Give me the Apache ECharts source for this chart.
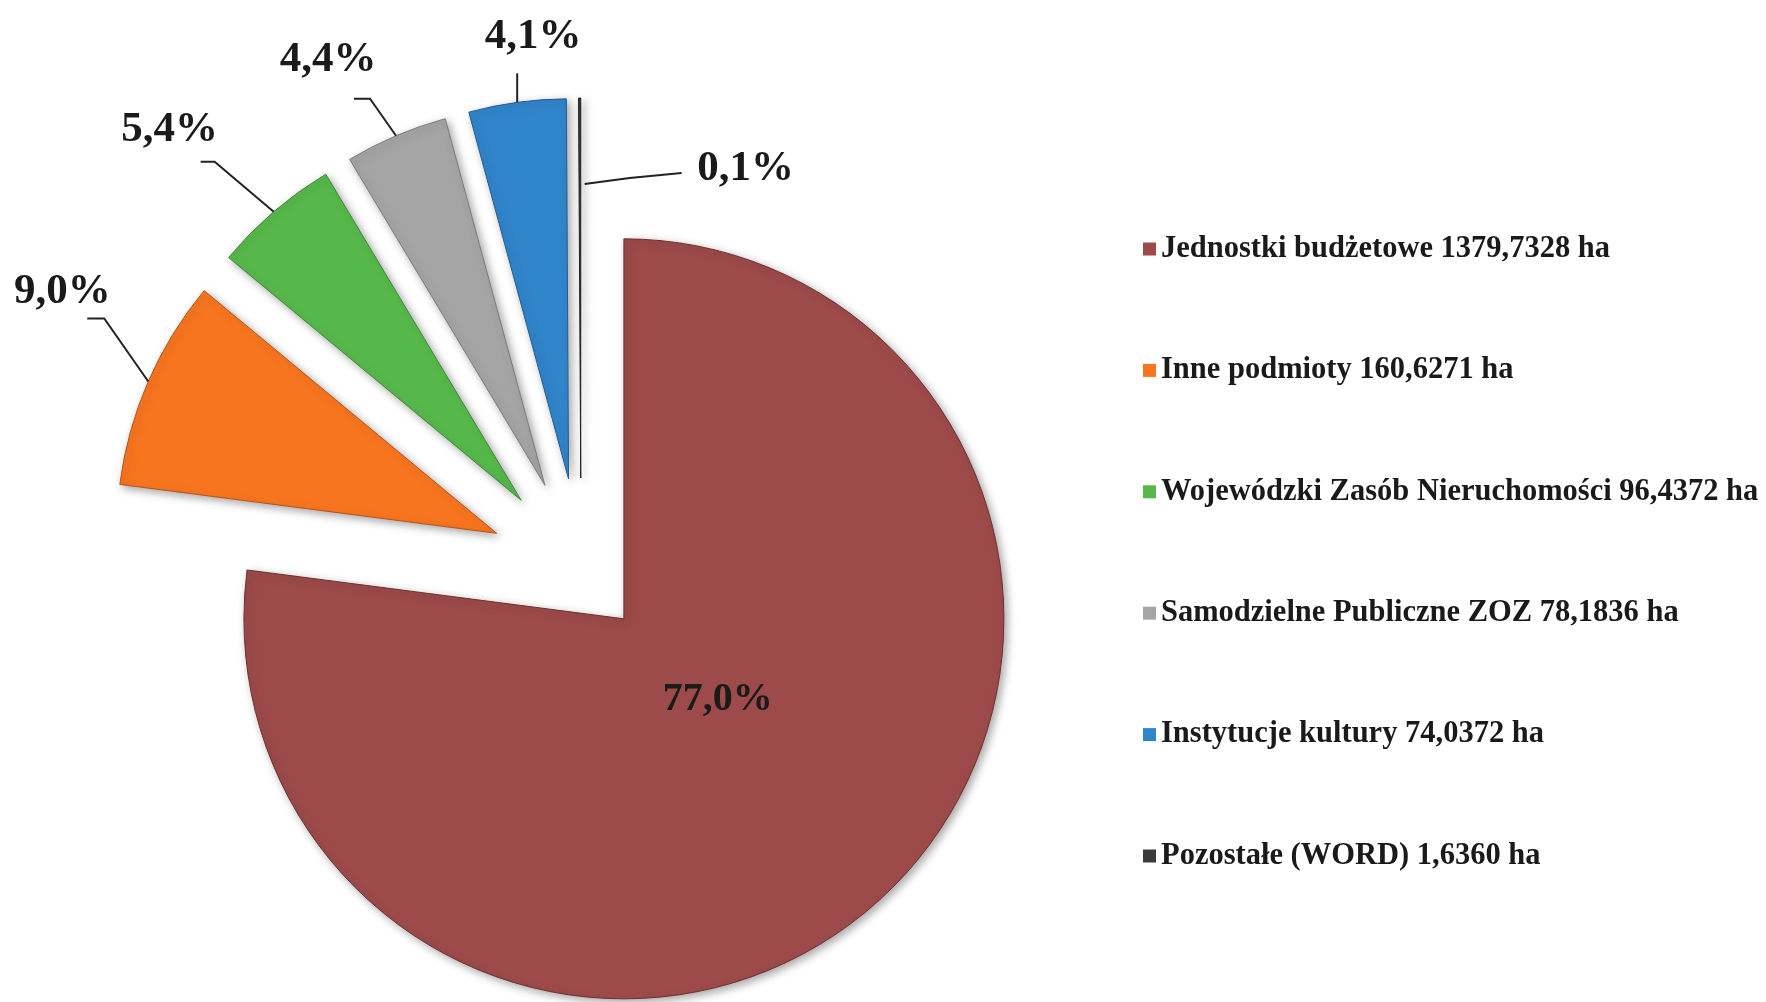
<!DOCTYPE html>
<html>
<head>
<meta charset="utf-8">
<script src="https://cdn.jsdelivr.net/npm/echarts@6/dist/echarts.min.js"></script>
<style>
html, body { margin: 0; padding: 0; background: #fff; }
#chart { width: 1766px; height: 1002px; }
</style>
</head>
<body>
<div id="chart"></div>
<script>
// powierzchnia gruntów wg władającego (ha)
var names = ['Jednostki budżetowe', 'Inne podmioty', 'Wojewódzki Zasób Nieruchomości',
  'Samodzielne Publiczne ZOZ', 'Instytucje kultury', 'Pozostałe (WORD)'];
var areas = [1379.7328, 160.6271, 96.4372, 78.1836, 74.0372, 1.6360];
var pctLabels = ['77,0%', '9,0%', '5,4%', '4,4%', '4,1%', '0,1%'];
var colors = ['#9d4a4a', '#f7751f', '#56b84b', '#a5a5a5', '#3185cb', '#3a3a3a'];
var edges = ['#6f2f2f', '#b9531a', '#3f8a33', '#7c7c7c', '#225c94', '#222222'];

var center = [581, 570];
var R = 380;
var offMain = 65;   // wysunięcie dużego wycinka
var offRest = 92;   // wysunięcie pozostałych

// przesunięcia etykiet względem początku linii odniesienia (na łuku wysuniętego wycinka)
var leader = {
  1: { start: [0, 0], bend: [-44, -63], end: [-61, -63], label: [-86, -90] },
  2: { start: [0, 0], bend: [-59, -50], end: [-73, -50], label: [-104, -82] },
  3: { start: [0, 0], bend: [-26, -37], end: [-42, -37], label: [-68, -76] },
  4: { start: [0, 0], bend: [0, -15], end: [0, -29], label: [16, -65] },
  5: { start: [5, 86], bend: [50, 80], end: [102, 75], label: [166, 71] }
};

var font = 'Liberation Serif, Times New Roman, serif';

function item(i, visible) {
  var st = {
    color: colors[i],
    borderColor: edges[i],
    borderWidth: 1,
    shadowBlur: 8,
    shadowColor: 'rgba(0,0,0,0.35)',
    shadowOffsetX: 3,
    shadowOffsetY: 3
  };
  if (!visible) {
    st = { opacity: 0 };
  }
  return {
    name: names[i],
    value: areas[i],
    selected: true,
    itemStyle: st,
    select: { itemStyle: st }
  };
}

function sliceSeries(offset, test) {
  return {
    type: 'pie',
    center: center,
    radius: R,
    startAngle: 90,
    selectedMode: 'multiple',
    selectedOffset: offset,
    silent: true,
    label: { show: false },
    labelLine: { show: false },
    data: names.map(function (n, i) { return item(i, test(i)); })
  };
}

var chart = echarts.init(document.getElementById('chart'));
chart.setOption({
  animation: false,
  backgroundColor: '#fff',
  legend: {
    orient: 'vertical',
    left: 1138,
    top: 226,
    itemGap: 85.4,
    itemWidth: 13,
    itemHeight: 13,
    icon: 'rect',
    selectedMode: false,
    data: names.map(function (n, i) {
      return { name: n, itemStyle: { color: colors[i], borderWidth: 0, shadowBlur: 0, opacity: 1 } };
    }),
    formatter: function (n) {
      var i = names.indexOf(n);
      return n + ' ' + areas[i].toFixed(4).replace('.', ',') + ' ha';
    },
    textStyle: { fontFamily: font, fontWeight: 'bold', fontSize: 30.5, color: '#1a1a1a', lineHeight: 36 }
  },
  series: [
    sliceSeries(offMain, function (i) { return i === 0; }),
    sliceSeries(offRest, function (i) { return i !== 0; }),
    {
      // tylko etykiety
      type: 'pie',
      center: center,
      radius: R,
      startAngle: 90,
      silent: true,
      z: 5,
      itemStyle: { color: 'rgba(0,0,0,0)' },
      data: names.map(function (n, i) { return { name: n, value: areas[i] }; }),
      label: {
        position: 'outside',
        opacity: 1,
        formatter: function (p) { return pctLabels[p.dataIndex]; },
        fontFamily: font, fontWeight: 'bold', fontSize: 43, color: '#1a1a1a'
      },
      labelLine: {
        length: 20,
        length2: 15,
        lineStyle: { color: '#222', width: 2, opacity: 1 }
      },
      labelLayout: function (p) {
        var pts = p.labelLinePoints;
        if (!pts) return {};
        var vx = pts[0][0] - center[0];
        var vy = pts[0][1] - center[1];
        var len = Math.sqrt(vx * vx + vy * vy);
        if (p.dataIndex === 0) {
          // etykieta wewnątrz dużego wycinka
          var k = 0.33 * R + offMain;
          return {
            x: center[0] + vx / len * k + 11,
            y: center[1] + vy / len * k - 13,
            align: 'center',
            verticalAlign: 'middle',
            fontSize: 40,
            labelLinePoints: [pts[0], pts[0], pts[0]]
          };
        }
        var m = leader[p.dataIndex];
        var s = [pts[0][0] + vx / len * offRest, pts[0][1] + vy / len * offRest];
        function at(o) { return [s[0] + o[0], s[1] + o[1]]; }
        var c = at(m.label);
        return {
          x: c[0],
          y: c[1],
          align: 'center',
          verticalAlign: 'middle',
          labelLinePoints: [at(m.start), at(m.bend), at(m.end)]
        };
      }
    }
  ]
});
</script>
</body>
</html>
